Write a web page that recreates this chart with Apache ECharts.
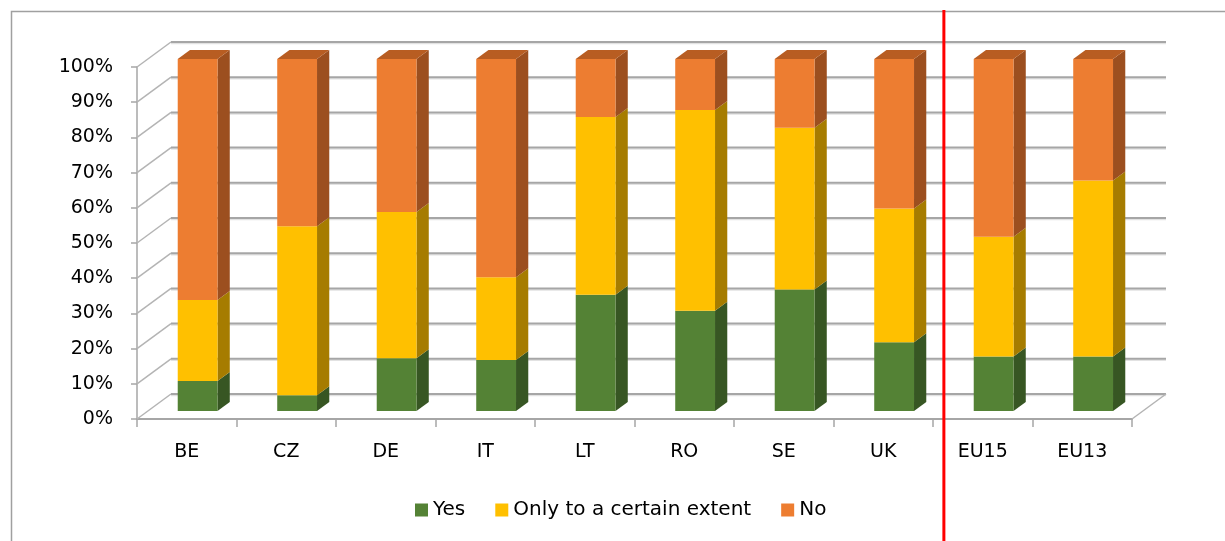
<!DOCTYPE html>
<html>
<head>
<meta charset="utf-8">
<title>Survey answers by country</title>
<script src="https://cdn.jsdelivr.net/npm/echarts@6/dist/echarts.min.js"></script>
<style>
  html, body { margin: 0; padding: 0; background: #ffffff; }
  #chart { width: 1225px; height: 541px; }
</style>
</head>
<body>
<div id="chart"></div>
<script>
// Categories and answer shares (percent of respondents)
const categories = ['BE', 'CZ', 'DE', 'IT', 'LT', 'RO', 'SE', 'UK', 'EU15', 'EU13'];
const yes        = [8.5, 4.5, 15, 14.5, 33, 28.5, 34.5, 19.5, 15.5, 15.5];
const partial    = [23, 48, 41.5, 23.5, 50.5, 57, 46, 38, 34, 50];
const no         = [68.5, 47.5, 43.5, 62, 16.5, 14.5, 19.5, 42.5, 50.5, 34.5];
const yTicks     = [0, 10, 20, 30, 40, 50, 60, 70, 80, 90, 100];
const seriesNames = ['Yes', 'Only to a certain extent', 'No'];

// Oblique 3D look: full depth of the plot box, and where the columns sit within it
const DEPTH_X = 34, DEPTH_Y = -25;
const BAR_FRONT = 0.32, BAR_DEPTH = 0.36;
const FONT = 'DejaVu Sans';

const palettes = [
  { front: '#548235', side: '#375623', top: '#46702b' },
  { front: '#ffc000', side: '#a67c00', top: '#c99700' },
  { front: '#ed7d31', side: '#9c4f1f', top: '#b85d22' }
];

// Build stacked [category, base, top] triples from the answer arrays
function stackRows(values, below) {
  return values.map((v, i) => {
    const base = below.reduce((s, arr) => s + arr[i], 0);
    return [i, base, base + v];
  });
}
const stacks = [
  stackRows(yes, []),
  stackRows(partial, [yes]),
  stackRows(no, [yes, partial])
];

function barRenderer(pal, isTop) {
  return function (params, api) {
    const i = api.value(0), base = api.value(1), top = api.value(2);
    const band = api.size([1, 0])[0];
    const w = band * 0.4;
    const pb = api.coord([i, base]);
    const pt = api.coord([i, top]);
    const ox = DEPTH_X * BAR_FRONT, oy = DEPTH_Y * BAR_FRONT;
    const dx = DEPTH_X * BAR_DEPTH, dy = DEPTH_Y * BAR_DEPTH;
    const xL = pb[0] - w / 2 + ox, xR = xL + w;
    const yB = pb[1] + oy, yT = pt[1] + oy;
    const children = [
      { type: 'polygon', shape: { points: [[xR, yB], [xR, yT], [xR + dx, yT + dy], [xR + dx, yB + dy]] },
        style: { fill: pal.side } },
      { type: 'rect', shape: { x: xL, y: yT, width: w, height: yB - yT },
        style: { fill: pal.front } }
    ];
    if (isTop) {
      children.push({ type: 'polygon',
        shape: { points: [[xL, yT], [xR, yT], [xR + dx, yT + dy], [xL + dx, yT + dy]] },
        style: { fill: pal.top } });
    }
    return { type: 'group', children: children };
  };
}

// Back wall grid lines, left wall diagonals and the right floor edge
function wallRenderer(params, api) {
  const cs = params.coordSys;
  const v = api.value(1);
  const y = api.coord([0, v])[1];
  const x0 = cs.x, x1 = cs.x + cs.width;
  const children = [
    { type: 'line', shape: { x1: x0 + DEPTH_X, y1: y + DEPTH_Y + 1.5, x2: x1 + DEPTH_X, y2: y + DEPTH_Y + 1.5 },
      style: { stroke: '#e2e2e2', lineWidth: 1.5 } },
    { type: 'line', shape: { x1: x0 + DEPTH_X, y1: y + DEPTH_Y, x2: x1 + DEPTH_X, y2: y + DEPTH_Y },
      style: { stroke: '#a6a6a6', lineWidth: 2 } },
    { type: 'line', shape: { x1: x0, y1: y, x2: x0 + DEPTH_X, y2: y + DEPTH_Y },
      style: { stroke: '#b4b4b4', lineWidth: 1.5 } }
  ];
  if (v === 0) {
    children.push({ type: 'line', shape: { x1: x1, y1: y, x2: x1 + DEPTH_X, y2: y + DEPTH_Y },
      style: { stroke: '#b4b4b4', lineWidth: 1.5 } });
  }
  return { type: 'group', children: children };
}

// Red separator between the country columns and the EU averages
function separatorRenderer(params, api) {
  const i = api.value(0);
  const band = api.size([1, 0])[0];
  const x = api.coord([i, 0])[0] + band / 2 + DEPTH_X * BAR_FRONT;
  return { type: 'line', shape: { x1: x, y1: 10, x2: x, y2: 541 },
    style: { stroke: '#ff0000', lineWidth: 3 } };
}

const chart = echarts.init(document.getElementById('chart'), null, { renderer: 'canvas' });

const barSeries = seriesNames.map((name, k) => ({
  name: name,
  type: 'custom',
  renderItem: barRenderer(palettes[k], k === seriesNames.length - 1),
  itemStyle: { color: palettes[k].front },
  encode: { x: 0, y: [1, 2] },
  data: stacks[k],
  z: 3
}));

chart.setOption({
  animation: false,
  backgroundColor: '#ffffff',
  graphic: [{
    type: 'rect', left: 9, top: 9, z: -10,
    shape: { width: 1400, height: 700 },
    style: { fill: 'none', stroke: '#a0a0a0', lineWidth: 1.5 }
  }],
  grid: { left: 137, right: 93, top: 67, bottom: 122, containLabel: false },
  legend: {
    data: seriesNames,
    left: 410, top: 495,
    icon: 'rect', itemWidth: 13, itemHeight: 13, itemGap: 30,
    textStyle: { fontFamily: FONT, fontSize: 20, color: '#000000' }
  },
  xAxis: {
    type: 'category',
    data: categories,
    axisLine: { show: true, lineStyle: { color: '#a6a6a6', width: 2 } },
    axisTick: { show: true, length: 8, lineStyle: { color: '#a6a6a6', width: 1.5 } },
    axisLabel: { margin: 24, fontFamily: FONT, fontSize: 19, color: '#000000' },
    splitLine: { show: false }
  },
  yAxis: {
    type: 'value', min: 0, max: 100, interval: 10,
    axisLine: { show: true, lineStyle: { color: '#a6a6a6', width: 1.5 } },
    axisTick: { show: true, length: 6, lineStyle: { color: '#a6a6a6', width: 1.5 } },
    axisLabel: { margin: 24, fontFamily: FONT, fontSize: 19, color: '#000000', formatter: '{value}%' },
    splitLine: { show: false }
  },
  series: [
    {
      type: 'custom', name: 'walls', renderItem: wallRenderer,
      encode: { x: 0, y: 1 }, data: yTicks.map(v => [0, v]), z: 1, silent: true
    },
    ...barSeries,
    {
      type: 'custom', name: 'separator', renderItem: separatorRenderer,
      encode: { x: 0 }, data: [[categories.indexOf('UK'), 0]], z: 5, silent: true
    }
  ]
});
</script>
</body>
</html>
